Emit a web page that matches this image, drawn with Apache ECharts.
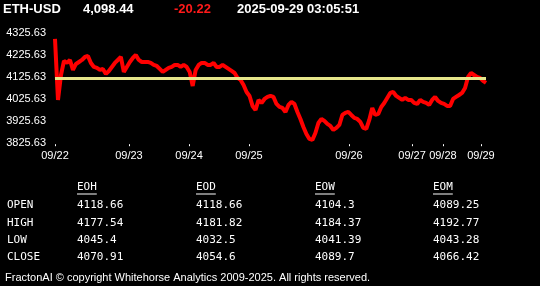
<!DOCTYPE html>
<html>
<head>
<meta charset="utf-8">
<script src="https://cdn.jsdelivr.net/npm/echarts@6/dist/echarts.min.js"></script>
<style>
html,body{margin:0;padding:0;background:#000;}
#c{width:540px;height:286px;}
</style>
</head>
<body>
<div id="c"></div>
<script>
// ---- data ----
const symbol = 'ETH-USD';
const lastPrice = '4,098.44';
const change = '-20.22';
const stamp = '2025-09-29 03:05:51';
const refLevel = 4118.66;

const dayLabels = ['09/22','09/23','09/24','09/25','09/26','09/27','09/28','09/29'];
const dayTickPos = [0, 24.7, 44.8, 64.8, 98.2, 119.3, 129.6, 142.3];
const yTicks = [3825.63, 3925.63, 4025.63, 4125.63, 4225.63, 4325.63];

const prices = [
  4298.4,4021.1,4134.7,4198.4,4189.3,4202.9,4157.5,4184.7,4193.8,4202.9,
  4216.5,4221.1,4189.3,4171.1,4166.6,4157.5,4162.0,4139.3,4152.9,4171.1,
  4189.3,4202.9,4216.5,4148.4,4171.1,4193.8,4212.0,4225.6,4202.9,4193.8,
  4193.8,4193.8,4189.3,4180.2,4175.6,4162.0,4148.4,4157.5,4166.6,4171.1,
  4180.2,4180.2,4171.1,4180.2,4171.1,4148.4,4084.7,4157.5,4180.2,4189.3,
  4189.3,4180.2,4180.2,4189.3,4171.1,4171.1,4180.2,4171.1,4162.0,4152.9,
  4143.8,4121.1,4112.0,4089.3,4057.5,4039.3,3993.9,3975.7,4021.1,4007.5,
  4025.7,4034.8,4039.3,4034.8,4003.0,3989.3,3984.8,3966.7,3998.4,4012.0,
  4003.0,3966.7,3934.7,3898.4,3866.6,3843.9,3839.3,3871.1,3916.6,3934.7,
  3925.7,3912.0,3902.9,3884.8,3893.9,3907.5,3952.9,3962.0,3966.7,3952.9,
  3939.3,3934.7,3921.1,3893.9,3889.3,3930.2,3984.8,3952.9,3957.5,3989.3,
  4007.5,4030.2,4052.9,4057.5,4039.3,4030.2,4021.1,4030.2,4021.1,4021.1,
  4007.5,4003.0,4021.1,4012.0,4007.5,3998.4,4021.1,4034.8,4016.6,4007.5,
  4003.0,3993.9,3993.9,4025.7,4034.8,4043.8,4052.9,4075.6,4125.6,4143.8,
  4134.7,4125.6,4121.1,4107.5,4098.4
];

const tableCols = ['EOH','EOD','EOW','EOM'];
const tableRows = ['OPEN','HIGH','LOW','CLOSE'];
const eoh = ['4118.66','4177.54','4045.4','4070.91'];
const eod = ['4118.66','4181.82','4032.5','4054.6'];
const eow = ['4104.3','4184.37','4041.39','4089.7'];
const eom = ['4089.25','4192.77','4043.28','4066.42'];
const footer = 'FractonAI \u00a9 copyright Whitehorse Analytics 2009-2025. All rights reserved.';

// ---- chart ----
const chart = echarts.init(document.getElementById('c'));
const seriesData = prices.map((v, i) => [i, v]);

const titleFont = 'bold 13px "Liberation Sans", Arial, sans-serif';
const mono = '11px "DejaVu Sans Mono", monospace';

const graphics = [
  {type:'text', left:3, top:3, style:{text:symbol, fill:'#fff', font:titleFont}},
  {type:'text', left:83, top:3, style:{text:lastPrice, fill:'#fff', font:titleFont}},
  {type:'text', left:174, top:3, style:{text:change, fill:'#ff1a1a', font:titleFont}},
  {type:'text', left:237, top:3, style:{text:stamp, fill:'#fff', font:titleFont}},
  {type:'text', left:5, top:272, style:{text:footer, fill:'#fff', font:'11px "Liberation Sans", Arial, sans-serif'}}
];
const colX = [77, 196, 315, 433];
const colVals = [eoh, eod, eow, eom];
const rowY = [200, 217.5, 234.5, 251.5];
tableCols.forEach((c, k) => {
  graphics.push({type:'text', left:colX[k], top:182, style:{text:c, fill:'#fff', font:mono}});
  graphics.push({type:'line', shape:{x1:colX[k], y1:194, x2:colX[k] + c.length*6.6, y2:194}, style:{stroke:'#fff', lineWidth:1}});
  colVals[k].forEach((v, r) => {
    graphics.push({type:'text', left:colX[k], top:rowY[r], style:{text:v, fill:'#fff', font:mono}});
  });
});
tableRows.forEach((r, j) => {
  graphics.push({type:'text', left:7, top:rowY[j], style:{text:r, fill:'#fff', font:mono}});
});

// axis range padded slightly so edge labels sit exactly on their values
const yMin = 3820, yMax = 4330;

chart.setOption({
  backgroundColor:'#000',
  animation:false,
  grid:{left:55, right:54, top:32, bottom:141.8},
  xAxis:{
    type:'value', min:0, max:prices.length - 1,
    splitLine:{show:false},
    axisLine:{show:false},
    axisTick:{show:true, customValues:dayTickPos, length:2, lineStyle:{color:'#fff', width:1}},
    axisLabel:{
      customValues:dayTickPos, color:'#fff', fontSize:11, margin:6,
      fontFamily:'"Liberation Sans", Arial, sans-serif',
      formatter:(v) => { const k = dayTickPos.indexOf(v); return k >= 0 ? dayLabels[k] : ''; }
    }
  },
  yAxis:{
    type:'value', min:yMin, max:yMax,
    splitLine:{show:false},
    axisLine:{show:false},
    axisTick:{show:false},
    axisLabel:{
      customValues:yTicks, color:'#fff', fontSize:11, margin:9,
      fontFamily:'"Liberation Sans", Arial, sans-serif',
      formatter:(v) => v.toFixed(2)
    }
  },
  series:[{
    type:'line', data:seriesData, showSymbol:false,
    lineStyle:{color:'#ff0000', width:4},
    markLine:{
      silent:true, symbol:'none', label:{show:false},
      lineStyle:{color:'#e6e68a', width:3, type:'solid'},
      data:[[{coord:[0, refLevel]}, {coord:[prices.length - 1, refLevel]}]]
    },
    z:2
  }],
  graphic:graphics
});
</script>
</body>
</html>
